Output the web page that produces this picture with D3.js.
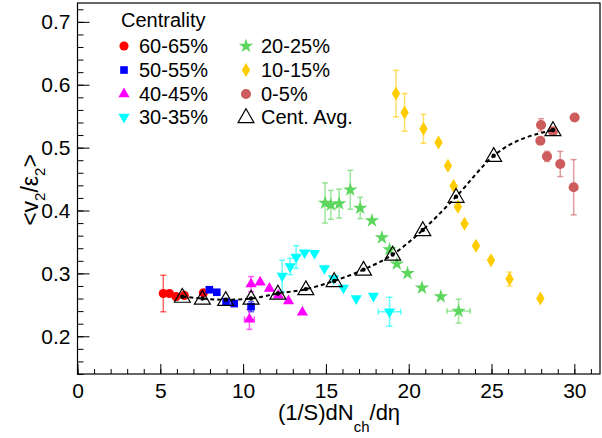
<!DOCTYPE html>
<html>
<head>
<meta charset="utf-8">
<script src="https://cdn.jsdelivr.net/npm/d3@7"></script>
<style>
  body { margin: 0; background: #fff; }
  svg { display: block; font-family: 'Liberation Sans', Arial, Helvetica, sans-serif; }
</style>
</head>
<body>
<svg id="chart" width="602" height="438"></svg>
<script>
// values: x = (1/S)dNch/deta, y = <v2/eps2>
const c60x = [5.18, 5.55, 5.95, 6.45, 7.60];
const c60y = [0.268, 0.268, 0.263, 0.265, 0.269];
const c60ey = [0.029, 0, 0, 0, 0];

const c50x = [7.96, 8.41, 8.97, 9.46, 10.48];
const c50y = [0.274, 0.270, 0.255, 0.252, 0.247];
const c50ey = [0, 0, 0, 0, 0.008];

const c40x = [10.48, 11.03, 11.59, 12.13, 12.74, 13.58, 10.38];
const c40y = [0.283, 0.286, 0.276, 0.265, 0.256, 0.238, 0.227];
const c40ey = [0.012, 0, 0, 0, 0, 0, 0.016];
const c40ex = [0, 0, 0, 0, 0, 0, 0.3];

const c30x = [12.36, 12.84, 13.20, 13.71, 14.31, 14.91, 15.46, 16.06, 16.83, 17.87, 18.84];
const c30y = [0.296, 0.311, 0.326, 0.333, 0.332, 0.308, 0.292, 0.277, 0.260, 0.264, 0.239];
const c30ey = [0.025, 0.013, 0.018, 0, 0, 0, 0, 0, 0, 0, 0.023];
const c30ex = [0, 0, 0, 0, 0, 0, 0, 0, 0, 0, 0.68];

const c20x = [14.95, 15.30, 15.80, 16.47, 17.07, 17.78, 18.38, 18.84, 19.28, 19.93, 20.80, 21.94, 23.01];
const c20y = [0.412, 0.409, 0.411, 0.433, 0.404, 0.384, 0.357, 0.338, 0.315, 0.300, 0.277, 0.263, 0.240];
const c20ey = [0.032, 0.023, 0.023, 0.031, 0.017, 0, 0, 0, 0, 0, 0, 0, 0.019];
const c20ex = [0, 0, 0, 0, 0, 0, 0, 0, 0, 0, 0, 0, 0.7];

const c10x = [19.23, 19.75, 20.89, 21.80, 22.37, 22.71, 22.97, 23.37, 24.06, 24.97, 26.09, 27.95];
const c10y = [0.586, 0.556, 0.530, 0.508, 0.471, 0.439, 0.406, 0.379, 0.344, 0.321, 0.291, 0.260];
const c10ey = [0.037, 0.030, 0.023, 0, 0, 0, 0, 0, 0, 0, 0.011, 0];

const c0x = [27.99, 27.95, 28.35, 28.71, 29.15, 30.02, 29.96];
const c0y = [0.536, 0.511, 0.486, 0.526, 0.474, 0.548, 0.437];
const c0ey = [0.010, 0, 0.008, 0, 0.020, 0, 0.044];

const avgX = [6.33, 7.54, 8.95, 10.48, 12.10, 13.79, 15.50, 17.27, 19.03, 20.85, 22.86, 25.13, 28.71];
const avgY = [0.263, 0.260, 0.258, 0.260, 0.268, 0.275, 0.288, 0.306, 0.330, 0.369, 0.422, 0.487, 0.528];

const xTicks = [0, 5, 10, 15, 20, 25, 30];
const yTicks = [0.2, 0.3, 0.4, 0.5, 0.6, 0.7];
const labels = ['60-65%', '50-55%', '40-45%', '30-35%', '20-25%', '10-15%', '0-5%', 'Cent. Avg.'];

const svg = d3.select('#chart');
const margin = { top: 3, right: 2, bottom: 64, left: 77.5 };
const width = 602 - margin.left - margin.right;
const height = 438 - margin.top - margin.bottom;

const x = d3.scaleLinear().domain([0, 31.55]).range([0, width]);
const y = d3.scaleLinear().domain([0.14, 0.73]).range([height, 0]);

const g = svg.append('g').attr('transform', `translate(${margin.left},${margin.top})`);

// thin diamond like ROOT marker 33
const thinDiamond = {
  draw(ctx, size) {
    const h = Math.sqrt(size) * 0.85, w = h * 0.6;
    ctx.moveTo(0, -h); ctx.lineTo(w, 0); ctx.lineTo(0, h); ctx.lineTo(-w, 0); ctx.closePath();
  }
};
const invTriangle = {
  draw(ctx, size) {
    const s = Math.sqrt(size / (Math.sqrt(3) / 4)), hh = s * Math.sqrt(3) / 2;
    ctx.moveTo(-s / 2, -hh / 3); ctx.lineTo(s / 2, -hh / 3); ctx.lineTo(0, 2 * hh / 3); ctx.closePath();
  }
};

const zip = (xs, ys, eys, exs) => xs.map((v, i) => ({ x: v, y: ys[i], ey: eys ? eys[i] : 0, ex: exs ? exs[i] : 0 }));

const series = [
  { label: labels[0], color: '#ff0000', type: d3.symbolCircle, size: 66, data: zip(c60x, c60y, c60ey) },
  { label: labels[1], color: '#0000ff', type: d3.symbolSquare, size: 58, data: zip(c50x, c50y, c50ey) },
  { label: labels[2], color: '#ff00ff', type: d3.symbolTriangle, size: 54, data: zip(c40x, c40y, c40ey, c40ex) },
  { label: labels[3], color: '#00ffff', type: invTriangle, size: 54, data: zip(c30x, c30y, c30ey, c30ex) },
  { label: labels[4], color: '#5cd65c', type: d3.symbolStar, size: 64, data: zip(c20x, c20y, c20ey, c20ex) },
  { label: labels[5], color: '#ffcc00', type: thinDiamond, size: 68, data: zip(c10x, c10y, c10ey) },
  { label: labels[6], color: '#cd5c5c', type: d3.symbolCircle, size: 80, data: zip(c0x, c0y, c0ey) }
];

// frame
g.append('rect').attr('width', width).attr('height', height)
  .attr('fill', 'none').attr('stroke', '#000').attr('stroke-width', 1.2);

// axes, ticks pointing inward
const xAxis = g.append('g').attr('transform', `translate(0,${height})`)
  .call(d3.axisBottom(x).tickValues(xTicks).tickSize(-10).tickPadding(9).tickFormat(d3.format('d')));
g.append('g').attr('transform', `translate(0,${height})`)
  .call(d3.axisBottom(x).tickValues(d3.range(0, 32, 1)).tickSize(-5).tickFormat(''));
const yAxis = g.append('g')
  .call(d3.axisLeft(y).tickValues(yTicks).tickSize(-12).tickPadding(7).tickFormat(d3.format('.1f')));
g.append('g')
  .call(d3.axisLeft(y).tickValues(d3.range(14, 73, 2).map(v => v / 100)).tickSize(-6).tickFormat(''));

g.selectAll('.domain').remove();
g.selectAll('.tick line').attr('stroke', '#000').attr('stroke-width', 1);
xAxis.selectAll('text').attr('font-size', 21).attr('fill', '#000');
yAxis.selectAll('text').attr('font-size', 21).attr('fill', '#000');

// error bars
series.forEach(s => {
  const eg = g.append('g').attr('stroke', s.color).attr('stroke-opacity', 0.6).attr('stroke-width', 1.5);
  s.data.filter(d => d.ey > 0).forEach(d => {
    eg.append('line').attr('x1', x(d.x)).attr('x2', x(d.x)).attr('y1', y(d.y - d.ey)).attr('y2', y(d.y + d.ey));
    eg.append('line').attr('x1', x(d.x) - 3).attr('x2', x(d.x) + 3).attr('y1', y(d.y - d.ey)).attr('y2', y(d.y - d.ey));
    eg.append('line').attr('x1', x(d.x) - 3).attr('x2', x(d.x) + 3).attr('y1', y(d.y + d.ey)).attr('y2', y(d.y + d.ey));
  });
  s.data.filter(d => d.ex > 0).forEach(d => {
    eg.append('line').attr('x1', x(d.x - d.ex)).attr('x2', x(d.x + d.ex)).attr('y1', y(d.y)).attr('y2', y(d.y));
    eg.append('line').attr('x1', x(d.x - d.ex)).attr('x2', x(d.x - d.ex)).attr('y1', y(d.y) - 3).attr('y2', y(d.y) + 3);
    eg.append('line').attr('x1', x(d.x + d.ex)).attr('x2', x(d.x + d.ex)).attr('y1', y(d.y) - 3).attr('y2', y(d.y) + 3);
  });
});

// markers
series.forEach(s => {
  g.append('g').selectAll('path').data(s.data).join('path')
    .attr('transform', d => `translate(${x(d.x)},${y(d.y)})`)
    .attr('d', d3.symbol().type(s.type).size(s.size))
    .attr('fill', s.color);
});

// centrality average: dashed curve, dots and open triangles
const avg = avgX.map((v, i) => ({ x: v, y: avgY[i] }));
g.append('path').datum(avg)
  .attr('fill', 'none').attr('stroke', '#000').attr('stroke-width', 2)
  .attr('stroke-dasharray', '4,3')
  .attr('d', d3.line().x(d => x(d.x)).y(d => y(d.y)).curve(d3.curveMonotoneX));
g.append('g').selectAll('circle').data(avg).join('circle')
  .attr('cx', d => x(d.x)).attr('cy', d => y(d.y)).attr('r', 2.2).attr('fill', '#000');
g.append('g').selectAll('path').data(avg).join('path')
  .attr('transform', d => `translate(${x(d.x)},${y(d.y) + 1})`)
  .attr('d', d3.symbol().type(d3.symbolTriangle).size(110))
  .attr('fill', 'none').attr('stroke', '#000').attr('stroke-width', 1.2);

// legend
const legend = svg.append('g').attr('font-size', 20).attr('fill', '#000');
legend.append('text').attr('x', 121).attr('y', 27).text('Centrality');
const rowY = [46, 70, 94, 117];
const legendItems = series.concat([{ label: labels[7], open: true }]);
legendItems.forEach((s, i) => {
  const col = i < 4 ? 0 : 1;
  const row = i < 4 ? i : i - 4;
  const mx = col === 0 ? 124 : 246;
  const tx = col === 0 ? 139 : 261;
  const my = rowY[row];
  if (s.open) {
    legend.append('path').attr('transform', `translate(${mx},${my + 1})`)
      .attr('d', d3.symbol().type(d3.symbolTriangle).size(110))
      .attr('fill', 'none').attr('stroke', '#000').attr('stroke-width', 1.2);
  } else {
    legend.append('path').attr('transform', `translate(${mx},${my})`)
      .attr('d', d3.symbol().type(s.type).size(s.size))
      .attr('fill', s.color);
  }
  legend.append('text').attr('x', tx).attr('y', my + 7).text(s.label);
});

// axis titles
const xt = svg.append('text').attr('x', 339).attr('y', 420).attr('text-anchor', 'middle')
  .attr('font-size', 22).attr('fill', '#000');
xt.append('tspan').text('(1/S)dN');
xt.append('tspan').attr('font-size', 15).attr('dy', 12).text('ch');
xt.append('tspan').attr('dy', -12).text('/dη');

const yt = svg.append('text').attr('transform', 'translate(38,190) rotate(-90)')
  .attr('text-anchor', 'middle').attr('font-size', 23).attr('fill', '#000');
yt.append('tspan').text('<v');
yt.append('tspan').attr('font-size', 15).attr('dy', 7).text('2');
yt.append('tspan').attr('dy', -7).text('/ε');
yt.append('tspan').attr('font-size', 15).attr('dy', 7).text('2');
yt.append('tspan').attr('dy', -7).text('>');
</script>
</body>
</html>
